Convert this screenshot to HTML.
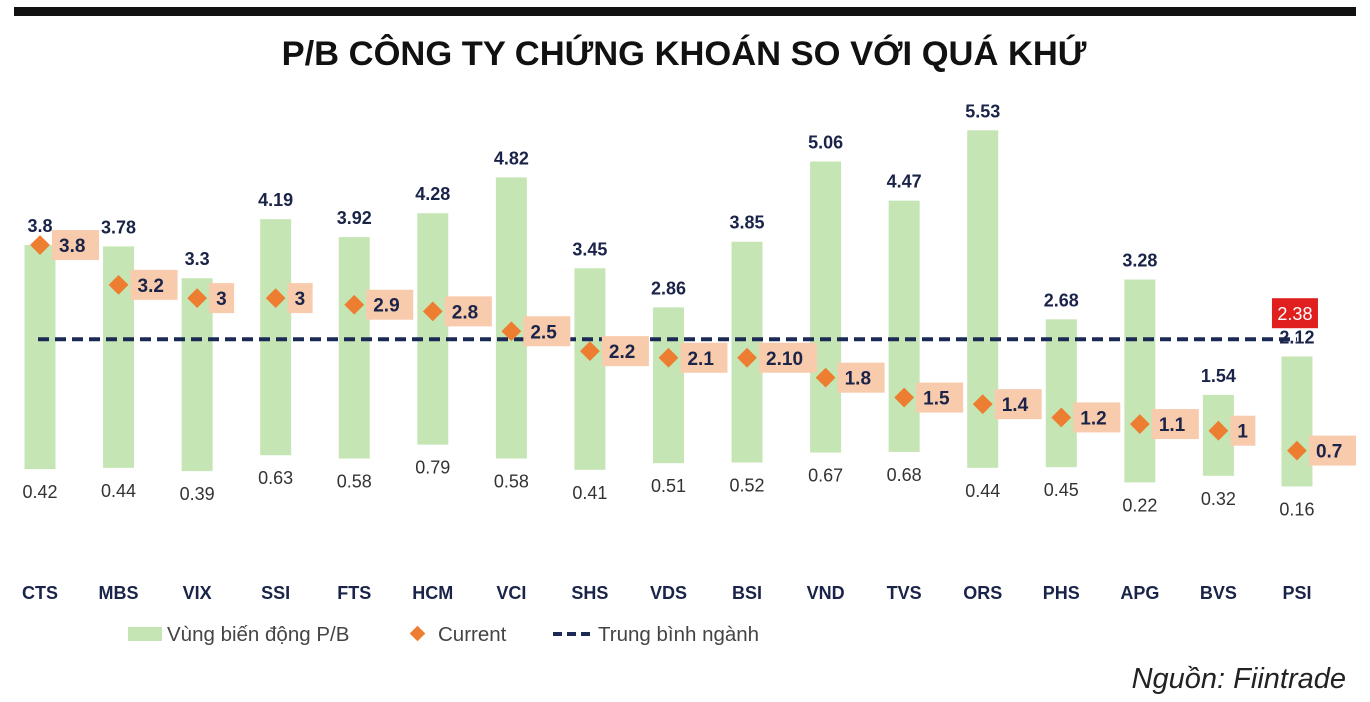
<!DOCTYPE html>
<html><head><meta charset="utf-8">
<style>
html,body{margin:0;padding:0;background:#fff;}
body{width:1370px;height:702px;overflow:hidden;position:relative;font-family:"Liberation Sans",sans-serif;}
</style></head>
<body>
<div style="position:absolute;left:14px;top:7px;width:1342px;height:9px;background:#111;"></div>
<svg id="chart" width="1370" height="702" style="position:absolute;left:0;top:0">
<text x="684" y="65" text-anchor="middle" font-family="Liberation Sans, sans-serif" font-weight="bold" font-size="34.5" fill="#111">P/B CÔNG TY CHỨNG KHOÁN SO VỚI QUÁ KHỨ</text>
<g id="marks"></g>
<g>
<rect x="128" y="627" width="34" height="14" fill="#c6e5b4"/>
<text x="167" y="641" font-size="20.5" fill="#444">Vùng biến động P/B</text>
<rect x="412" y="628" width="11" height="11" fill="#ed7d31" transform="rotate(45 417.5 633.5)"/>
<text x="438" y="641" font-size="20.5" fill="#444">Current</text>
<line x1="553" y1="634" x2="593" y2="634" stroke="#1a2a55" stroke-width="4" stroke-dasharray="9,5"/>
<text x="598" y="641" font-size="20.5" fill="#444">Trung bình ngành</text>
</g>
<text x="1346" y="688" text-anchor="end" font-style="italic" font-size="29" fill="#222">Nguồn: Fiintrade</text>
</svg>
<script>
const categories=["CTS","MBS","VIX","SSI","FTS","HCM","VCI","SHS","VDS","BSI","VND","TVS","ORS","PHS","APG","BVS","PSI"];
const maxValues=[3.8,3.78,3.3,4.19,3.92,4.28,4.82,3.45,2.86,3.85,5.06,4.47,5.53,2.68,3.28,1.54,2.12];
const minValues=[0.42,0.44,0.39,0.63,0.58,0.79,0.58,0.41,0.51,0.52,0.67,0.68,0.44,0.45,0.22,0.32,0.16];
const currentValues=[3.8,3.2,3,3,2.9,2.8,2.5,2.2,2.1,2.1,1.8,1.5,1.4,1.2,1.1,1,0.7];
const currentLabels=["3.8","3.2","3","3","2.9","2.8","2.5","2.2","2.1","2.10","1.8","1.5","1.4","1.2","1.1","1","0.7"];
const industryAverage=2.38;
const NS="http://www.w3.org/2000/svg";
const g=document.getElementById('marks');
function y(v){return 497-66.3*v;}
function x(i){return 40+i*78.56;}
function el(tag,attrs,txt){const e=document.createElementNS(NS,tag);for(const k in attrs)e.setAttribute(k,attrs[k]);if(txt!==undefined)e.textContent=txt;g.appendChild(e);return e;}
const bw=31;
categories.forEach((c,i)=>{
  const cx=x(i);
  let e=el('rect',{x:cx-bw/2,y:y(maxValues[i]),width:bw,height:y(minValues[i])-y(maxValues[i]),fill:'#c6e5b4'});
  
  
});
let avg=el('line',{x1:x(0)-2,x2:x(16),y1:y(industryAverage),y2:y(industryAverage),stroke:'#1a2a55','stroke-width':4,'stroke-dasharray':'11,6'});


let ab=el('rect',{x:x(16)-25,y:y(industryAverage)-41,width:46,height:30,fill:'#e0201f'});


let at=el('text',{x:x(16)-2,y:y(industryAverage)-19,'text-anchor':'middle','font-size':18,fill:'#fff'},industryAverage.toFixed(2));


categories.forEach((c,i)=>{
  const cx=x(i);
  const cy=y(currentValues[i]);
  const lbl=currentLabels[i];
  const w=lbl.length*11+14;
  let b=el('rect',{x:cx+12,y:cy-15,width:w,height:30,fill:'#f8cbad'});
  
  
  let t=el('text',{x:cx+19,y:cy+7,'font-size':19,'font-weight':'bold',fill:'#1a2348'},lbl);
  
  
  let d=el('rect',{x:cx-7,y:cy-7,width:14,height:14,fill:'#ed7d31',transform:`rotate(45 ${cx} ${cy})`});
  
  
  let mx=el('text',{x:cx,y:y(maxValues[i])-13,'text-anchor':'middle','font-size':18,'font-weight':'bold',fill:'#1a2348'},String(maxValues[i]));
  
  
  let mn=el('text',{x:cx,y:y(minValues[i])+29,'text-anchor':'middle','font-size':18,fill:'#333'},minValues[i].toFixed(2));
  
  
  let cl=el('text',{x:cx,y:599,'text-anchor':'middle','font-size':18,'font-weight':'bold',fill:'#1a2348'},c);
  
  
});
</script>
</body></html>
